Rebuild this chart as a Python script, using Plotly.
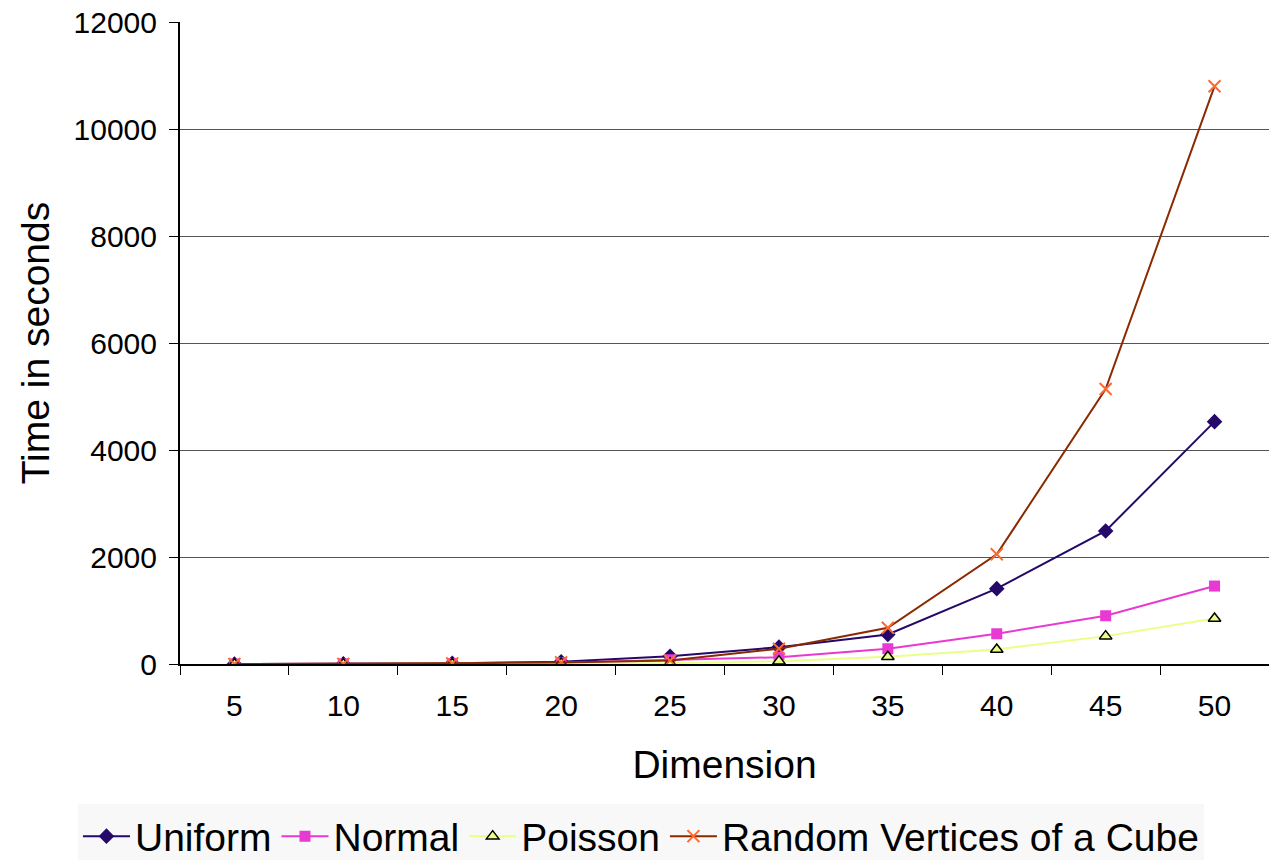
import plotly.graph_objects as go

# Dimension categories and run times (seconds) per distribution
dimensions = ["5", "10", "15", "20", "25", "30", "35", "40", "45", "50"]
uniform = [0.5, 3, 15, 40, 146, 315, 552, 1408, 2487, 4530]
normal = [0.3, 2, 10, 25, 79, 127, 285, 565, 902, 1457]
poisson = [0.2, 1, 5, 12, 15, 53, 135, 272, 521, 852]
cube = [0.4, 2, 12, 30, 66, 285, 678, 2050, 5140, 10800]

series = [
    ("Uniform", uniform, dict(color="#24086a", width=2),
     dict(symbol="diamond", size=12, color="#24086a")),
    ("Normal", normal, dict(color="#e83ad2", width=2),
     dict(symbol="square", size=11, color="#e83ad2")),
    ("Poisson", poisson, dict(color="#eaff86", width=2),
     dict(symbol="triangle-up", size=11, color="#eaff86",
          line=dict(color="#000000", width=1.5))),
    ("Random Vertices of a Cube", cube, dict(color="#8a2a00", width=2),
     dict(symbol="x-thin", size=12, color="#ff6a30",
          line=dict(color="#ff6a30", width=2))),
]

fig = go.Figure()
for name, vals, line, marker in series:
    fig.add_trace(go.Scatter(
        x=dimensions, y=vals, name=name, mode="lines+markers",
        line=line, marker=marker,
    ))

font_family = "Liberation Sans, Arial, Helvetica, sans-serif"

fig.update_layout(
    width=1269, height=860,
    margin=dict(l=180, r=0, t=22, b=196, autoexpand=False),
    paper_bgcolor="white", plot_bgcolor="white",
    font=dict(family=font_family, color="black", size=30),
    showlegend=True,
    legend=dict(
        orientation="h", x=-0.0937, xanchor="left", y=-0.2185, yanchor="top",
        bgcolor="#f8f8f8", font=dict(size=39, family=font_family),
        itemwidth=47, tracegroupgap=0,
    ),
    xaxis=dict(
        type="category", range=[-0.5, 9.5], automargin=False,
        tickson="boundaries", ticks="outside", ticklen=9, tickwidth=1,
        tickcolor="black", showline=True, linecolor="black", linewidth=2,
        showgrid=False, tickfont=dict(size=30), ticklabelstandoff=14,
        title=dict(text="Dimension", font=dict(size=39), standoff=30),
    ),
    yaxis=dict(
        range=[0, 12000], automargin=False,
        tickvals=[0, 2000, 4000, 6000, 8000, 10000, 12000],
        ticktext=["0", "2000", "4000", "6000", "8000", "10000", "12000"],
        ticks="outside", ticklen=9, tickwidth=1, tickcolor="black",
        showline=True, linecolor="black", linewidth=2,
        showgrid=True, gridcolor="#555555", gridwidth=1,
        zeroline=False, tickfont=dict(size=30), ticklabelstandoff=6,
        title=dict(text="Time in seconds", font=dict(size=39), standoff=12),
    ),
)

fig.write_html("out.html")
